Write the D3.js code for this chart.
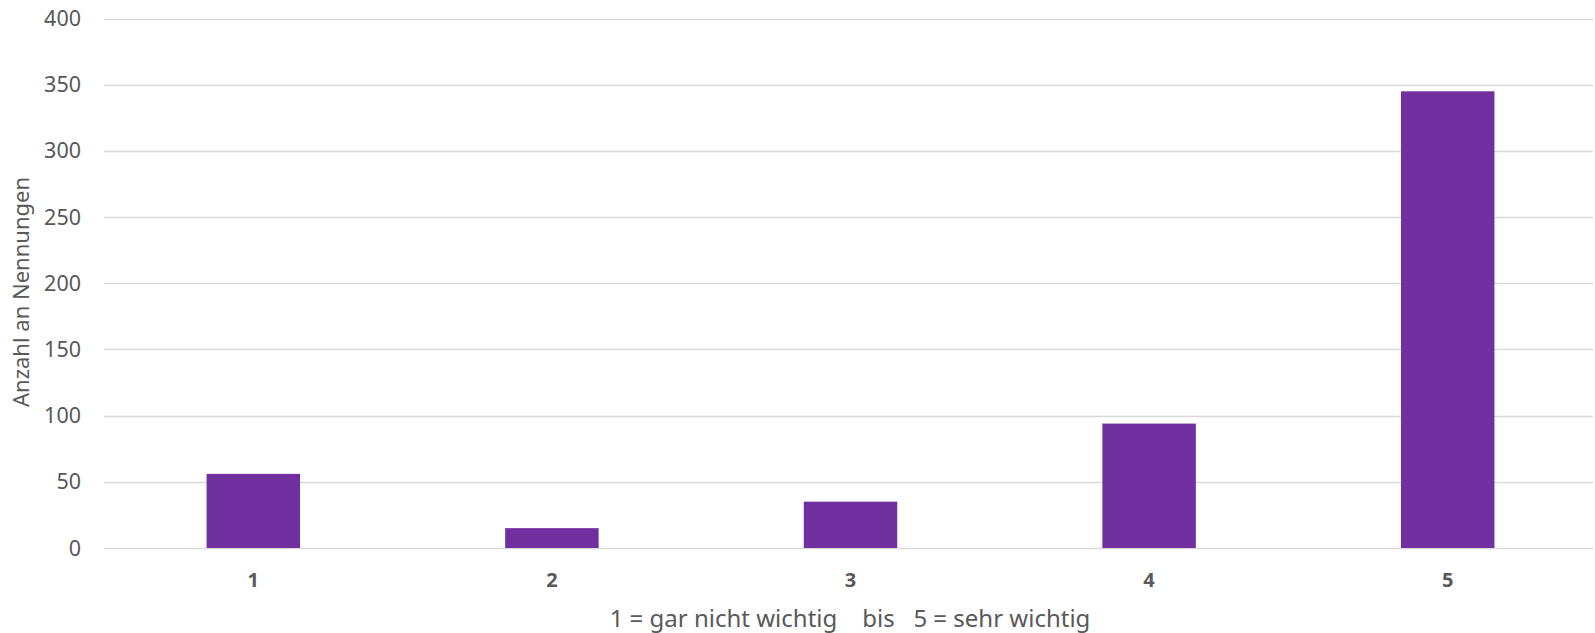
<!DOCTYPE html>
<html>
<head>
<meta charset="utf-8">
<script src="https://cdn.jsdelivr.net/npm/d3@7"></script>
<style>
  body { margin: 0; background: #fff; }
  text { font-family: "Noto Sans", "Open Sans", sans-serif; fill: #595959; }
</style>
</head>
<body>
<div id="chart"></div>
<script>
// data
var categories = ["1", "2", "3", "4", "5"];
var values = [56, 15, 35, 94, 345];
var yTicks = [0, 50, 100, 150, 200, 250, 300, 350, 400];

var w = 1595, h = 633;
var margin = { top: 18.5, right: 0, bottom: 85, left: 104 };

var svg = d3.select("#chart")
    .append("svg")
    .attr("width", w)
    .attr("height", h);

var x = d3.scaleBand()
    .domain(categories)
    .range([margin.left, w + 2])
    .paddingInner(0.687)
    .paddingOuter(0.3435);

var y = d3.scaleLinear()
    .domain([0, 400])
    .range([h - margin.bottom, margin.top]);

// gridlines
svg.append("g")
    .selectAll("line")
    .data(yTicks)
    .enter()
    .append("line")
    .attr("x1", margin.left)
    .attr("x2", w - 2)
    .attr("y1", function(d) { return Math.round(y(d)) + 0.5; })
    .attr("y2", function(d) { return Math.round(y(d)) + 0.5; })
    .attr("stroke", "#d9d9d9")
    .attr("stroke-width", 1.5);

// y tick labels
svg.append("g")
    .selectAll("text")
    .data(yTicks)
    .enter()
    .append("text")
    .attr("x", 81)
    .attr("y", function(d) { return y(d); })
    .attr("dy", "0.35em")
    .attr("text-anchor", "end")
    .style("font-size", "21.5px")
    .text(function(d) { return d; });

// bars
svg.append("g")
    .selectAll("rect")
    .data(values)
    .enter()
    .append("rect")
    .attr("x", function(d, i) { return x(categories[i]); })
    .attr("width", x.bandwidth())
    .attr("y", function(d) { return y(d); })
    .attr("height", function(d) { return y(0) - y(d); })
    .attr("fill", "#7030a0");

// x category labels
svg.append("g")
    .selectAll("text")
    .data(categories)
    .enter()
    .append("text")
    .attr("x", function(d) { return x(d) + x.bandwidth() / 2; })
    .attr("y", 580)
    .attr("dy", "0.35em")
    .attr("text-anchor", "middle")
    .style("font-size", "20px")
    .style("font-weight", "bold")
    .text(function(d) { return d; });

// axis titles
svg.append("text")
    .attr("x", 850)
    .attr("y", 619)
    .attr("dy", "0.35em")
    .attr("text-anchor", "middle")
    .style("font-size", "24px")
    .attr("xml:space", "preserve")
    .text("1 = gar nicht wichtig    bis   5 = sehr wichtig");

svg.append("text")
    .attr("transform", "translate(21,292) rotate(-90)")
    .attr("dy", "0.35em")
    .attr("text-anchor", "middle")
    .style("font-size", "22px")
    .text("Anzahl an Nennungen");
</script>
</body>
</html>
